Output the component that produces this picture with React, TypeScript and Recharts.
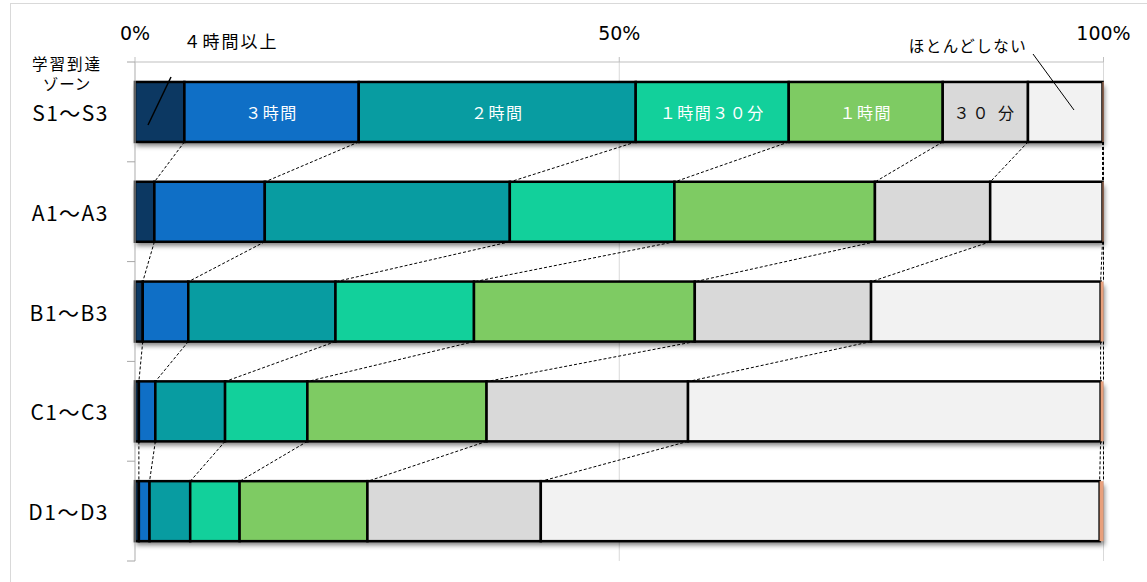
import React from "react";
import { BarChart, Bar, XAxis, YAxis, CartesianGrid } from "recharts";

// ---- data ----
const categories = ["S1～S3", "A1～A3", "B1～B3", "C1～C3", "D1～D3"];
const fourHoursPlus = [5.1, 2.0, 0.8, 0.4, 0.4];
const threeHours = [18.0, 11.4, 4.7, 1.7, 1.1];
const twoHours = [28.6, 25.3, 15.2, 7.2, 4.2];
const ninetyMinutes = [15.8, 17.0, 14.3, 8.5, 5.1];
const oneHour = [15.9, 20.7, 22.8, 18.5, 13.2];
const thirtyMinutes = [8.8, 11.9, 18.2, 20.8, 17.9];
const rarely = [7.7, 11.6, 23.7, 42.6, 57.7];
const noAnswer = [0.1, 0.1, 0.3, 0.3, 0.4];

const seriesKeys = ["h4", "h3", "h2", "h15", "h1", "m30", "rarely", "na"];
const seriesNames = ["４時間以上", "３時間", "２時間", "１時間３０分", "１時間", "３０分", "ほとんどしない", "無回答"];
const seriesValues = [fourHoursPlus, threeHours, twoHours, ninetyMinutes, oneHour, thirtyMinutes, rarely, noAnswer];
const seriesColors = ["#0C3862", "#0F6FC6", "#089CA1", "#12D09B", "#7ECB63", "#D9D9D9", "#F2F2F2", "#E8A07C"];
const firstRowLabels = ["", "３時間", "２時間", "１時間３０分", "１時間", "３０ 分", "", ""];
const firstRowLabelColors = ["#fff", "#fff", "#fff", "#fff", "#fff", "#111", "#111", "#111"];
const xTicks = [0, 50, 100];

const data = categories.map((name, i) => {
  const row: Record<string, any> = { name };
  seriesKeys.forEach((k, j) => {
    row[k] = seriesValues[j][i];
  });
  return row;
});

// ---- layout ----
const W = 1147;
const H = 582;
const MARGIN = { top: 22, right: 43.5, bottom: 21, left: 0 };
const X_AXIS_H = 40;
const Y_AXIS_W = 135;
const CAT_GAP = 0.2;
const PLOT_H = H - MARGIN.top - MARGIN.bottom - X_AXIS_H;
const STEP = PLOT_H / categories.length;
const JP = "'Noto Sans CJK JP', 'Noto Sans', sans-serif";

const rowSum = (row: number, upTo: number) => {
  let s = 0;
  for (let j = 0; j <= upTo; j++) s += seriesValues[j][row];
  return s;
};

function makeShape(k: number) {
  return (props: any) => {
    const { x, y, width, height, index } = props;
    const v = seriesValues[k][index];
    const s = v > 0 ? width / v : 0;
    const left = x - rowSum(index, k - 1) * s;
    const total = rowSum(index, seriesKeys.length - 1);
    const step = height / (1 - 2 * CAT_GAP);
    const isLast = k === seriesKeys.length - 1;
    const right = x + width;
    let connector = null;
    if (index < categories.length - 1) {
      const nx = left + rowSum(index + 1, k) * s;
      connector = (
        <line
          x1={right}
          y1={y + height}
          x2={nx}
          y2={y + step}
          stroke="#000"
          strokeWidth={1}
          strokeDasharray="3 2"
        />
      );
    }
    const label = index === 0 ? firstRowLabels[k] : "";
    return (
      <g>
        {k === 0 && (
          <rect
            x={left + 1}
            y={y + 4}
            width={total * s}
            height={height}
            fill="#000"
            opacity={0.5}
            filter="url(#barShadow)"
          />
        )}
        <rect
          x={x}
          y={y}
          width={width}
          height={height}
          fill={seriesColors[k]}
          stroke={isLast ? "none" : "#000"}
          strokeWidth={isLast ? 0 : 2.5}
        />
        {connector}
        {label && (
          <text
            x={x + width / 2}
            y={y + height / 2}
            textAnchor="middle"
            dominantBaseline="central"
            fontSize={16}
            letterSpacing={k === 5 ? 3 : 1.5}
            fontFamily={JP}
            fill={firstRowLabelColors[k]}
          >
            {label}
          </text>
        )}
      </g>
    );
  };
}

const CategoryTick = (props: any) => {
  const { x, y, payload, index } = props;
  const axisX = Y_AXIS_W;
  return (
    <g>
      <line x1={axisX - 8} y1={y - STEP / 2} x2={axisX} y2={y - STEP / 2} stroke="#A6A6A6" strokeWidth={1} />
      {index === categories.length - 1 && (
        <line x1={axisX - 8} y1={y + STEP / 2} x2={axisX} y2={y + STEP / 2} stroke="#A6A6A6" strokeWidth={1} />
      )}
      <text
        x={x}
        y={y}
        textAnchor="end"
        dominantBaseline="central"
        fontSize={21}
        letterSpacing={1.5}
        fontFamily={JP}
        fill="#000"
      >
        {payload.value}
      </text>
    </g>
  );
};

export default function App() {
  return (
    <div
      style={{
        position: "fixed",
        left: 0,
        top: 0,
        width: W,
        height: H,
        overflow: "hidden",
        background: "#fff",
      }}
    >
      <div
        style={{
          position: "absolute",
          left: 10,
          top: 3,
          width: 1160,
          height: 620,
          border: "1px solid #D9D9D9",
          boxSizing: "border-box",
        }}
      />
      <div style={{ position: "absolute", left: 0, top: 0 }}>
        <BarChart
          width={W}
          height={H}
          data={data}
          layout="vertical"
          margin={MARGIN}
          barCategoryGap={`${CAT_GAP * 100}%`}
        >
          <defs>
            <filter id="barShadow" x="-5%" y="-50%" width="110%" height="200%">
              <feGaussianBlur stdDeviation="2.5" />
            </filter>
          </defs>
          <CartesianGrid horizontal={false} stroke="#D9D9D9" verticalValues={xTicks} />
          <XAxis
            type="number"
            orientation="top"
            domain={[0, 100]}
            ticks={xTicks}
            tickFormatter={(v: number) => `${v}%`}
            height={X_AXIS_H}
            tickSize={5}
            tickMargin={17}
            axisLine={{ stroke: "#BFBFBF" }}
            tickLine={{ stroke: "#BFBFBF" }}
            tick={{ fontSize: 19, fill: "#000", fontFamily: "'DejaVu Sans', sans-serif" }}
          />
          <YAxis
            type="category"
            dataKey="name"
            width={Y_AXIS_W}
            tickSize={0}
            tickMargin={26}
            tickLine={false}
            axisLine={{ stroke: "#BFBFBF" }}
            tick={<CategoryTick />}
            interval={0}
          />
          {seriesKeys.map((key, k) => (
            <Bar
              key={key}
              dataKey={key}
              name={seriesNames[k]}
              stackId="a"
              fill={seriesColors[k]}
              isAnimationActive={false}
              shape={makeShape(k)}
            />
          ))}
        </BarChart>
      </div>
      <svg
        width={W}
        height={H}
        style={{ position: "absolute", left: 0, top: 0, pointerEvents: "none" }}
      >
        <text x={67} y={63} textAnchor="middle" dominantBaseline="central" fontSize={15.5} letterSpacing={2} fontFamily={JP} fill="#000">
          学習到達
        </text>
        <text x={67} y={83} textAnchor="middle" dominantBaseline="central" fontSize={15.5} letterSpacing={1} fontFamily={JP} fill="#000">
          ゾーン
        </text>
        <text x={231} y={40} textAnchor="middle" dominantBaseline="central" fontSize={17} letterSpacing={2} fontFamily={JP} fill="#000">
          ４時間以上
        </text>
        <line x1={171} y1={77} x2={148} y2={125} stroke="#000" strokeWidth={1.5} />
        <text x={968} y={45} textAnchor="middle" dominantBaseline="central" fontSize={15.5} letterSpacing={1.5} fontFamily={JP} fill="#000">
          ほとんどしない
        </text>
        <line x1={1033} y1={54} x2={1074} y2={110} stroke="#000" strokeWidth={1} />
      </svg>
    </div>
  );
}
